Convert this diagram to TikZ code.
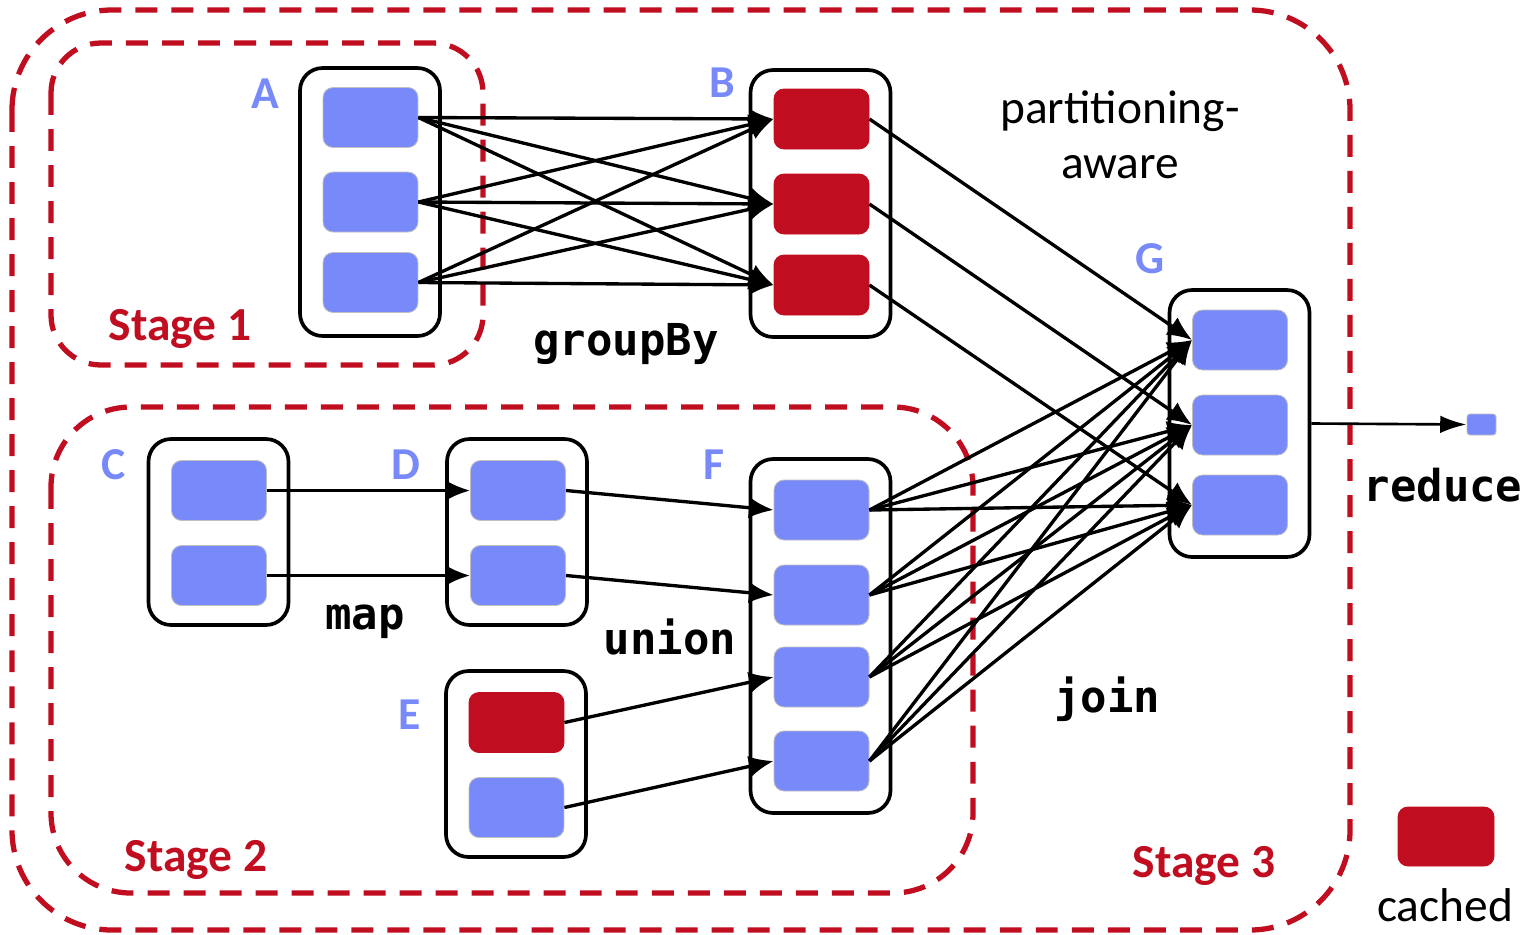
\documentclass[tikz,border=0pt]{standalone}
\usepackage{fontspec}
\setmainfont{Carlito}
\setmonofont{DejaVu Sans Mono}
\usetikzlibrary{arrows.meta}
\definecolor{pblue}{RGB}{120,138,250}
\definecolor{cred}{RGB}{192,14,32}
\begin{document}
\begin{tikzpicture}[x=0.02cm,y=-0.02cm,
  stage/.style={draw=cred, line width=3pt, dash pattern=on 12.5pt off 8pt},
  grp/.style={draw=black, line width=2.1pt, rounded corners=0.45cm, minimum width=2.8cm, inner sep=0},
  blk/.style={rectangle, rounded corners=0.2cm, fill=pblue, draw=black!25, line width=0.5pt, minimum width=1.9cm, minimum height=1.2cm, inner sep=0},
  rblk/.style={blk, fill=cred, draw=cred},
  arr/.style={line width=1.9pt, -{Latex[length=14pt,width=12pt]}},
  lbl/.style={text=pblue, font=\fontsize{26}{30}\selectfont\bfseries, anchor=base, inner sep=0},
  stg/.style={text=cred, font=\fontsize{27}{30}\selectfont\bfseries, anchor=base, inner sep=0},
  code/.style={font=\fontsize{25}{28}\selectfont\ttfamily\bfseries, anchor=base, inner sep=0},
  txt/.style={font=\fontsize{27}{30}\selectfont, anchor=base, inner sep=0}]
\useasboundingbox (0,0) rectangle (1521,934);
% stages
\draw[stage, rounded corners=2cm] (12,10) rectangle (1350,930);
\draw[stage, rounded corners=1cm] (51,43) rectangle (483,365);
\draw[stage, rounded corners=1.6cm] (51,407) rectangle (973,893);
% group boxes
\node[grp, minimum height=5.36cm] (Abox) at (370,202) {};
\node[grp, minimum height=5.34cm] (Bbox) at (820.5,203.5) {};
\node[grp, minimum height=5.34cm] (Gbox) at (1239.5,423.5) {};
\node[grp, minimum height=3.72cm] (Cbox) at (218.5,532) {};
\node[grp, minimum height=3.72cm] (Dbox) at (517,532) {};
\node[grp, minimum height=3.72cm] (Ebox) at (516,764) {};
\node[grp, minimum height=7.08cm] (Fbox) at (820.5,636) {};
% blocks
\node[blk] (A1) at (370.5,117.5) {};
\node[blk] (A2) at (370.5,202) {};
\node[blk] (A3) at (370.5,282.5) {};
\node[rblk] (B1) at (821.5,119) {};
\node[rblk] (B2) at (821.5,204) {};
\node[rblk] (B3) at (821.5,285) {};
\node[blk] (G1) at (1240,340) {};
\node[blk] (G2) at (1240,425) {};
\node[blk] (G3) at (1240,505) {};
\node[blk] (C1) at (219,490.5) {};
\node[blk] (C2) at (219,575.5) {};
\node[blk] (D1) at (518,490.5) {};
\node[blk] (D2) at (518,575.5) {};
\node[rblk] (E1) at (516.5,722.5) {};
\node[blk] (E2) at (516.5,807.5) {};
\node[blk] (F1) at (821.5,510) {};
\node[blk] (F2) at (821.5,595) {};
\node[blk] (F3) at (821.5,677) {};
\node[blk] (F4) at (821.5,761) {};
\node[blk, minimum width=0.58cm, minimum height=0.42cm, rounded corners=0.06cm] (R) at (1481.5,424.5) {};
\node[rblk, minimum width=1.92cm, minimum height=1.18cm] (L) at (1446,836.5) {};
% arrows
\foreach \i in {1,2,3} \foreach \j in {1,2,3} \draw[arr] (A\i.east) -- (B\j.west);
\foreach \i in {1,2,3} \draw[arr] (B\i.east) -- (G\i.west);
\foreach \i in {1,2,3,4} \foreach \j in {1,2,3} \draw[arr] (F\i.east) -- (G\j.west);
\draw[arr] (C1.east) -- (D1.west);
\draw[arr] (C2.east) -- (D2.west);
\draw[arr] (D1.east) -- (F1.west);
\draw[arr] (D2.east) -- (F2.west);
\draw[arr] (E1.east) -- (F3.west);
\draw[arr] (E2.east) -- (F4.west);
\draw[line width=1.5pt, -{Latex[length=15pt,width=10pt]}] (Gbox.east) -- (R.west);
% labels
\node[lbl] (lA) at (265,108) {A};
\node[lbl] (lB) at (722,97) {B};
\node[lbl] (lG) at (1150,273) {G};
\node[lbl] (lC) at (114,479) {C};
\node[lbl] (lD) at (406,479) {D};
\node[lbl] (lE) at (410,729) {E};
\node[lbl] (lF) at (714,479) {F};
\node[stg] (s1) at (180,340) {Stage 1};
\node[stg] (s2) at (196,871) {Stage 2};
\node[stg] (s3) at (1204,877) {Stage 3};
\node[code] (tg) at (626,355) {groupBy};
\node[code] (tm) at (365,629) {map};
\node[code] (tu) at (670,654) {union};
\node[code] (tj) at (1107,712) {join};
\node[code] (tr) at (1443,501) {reduce};
\node[txt] (tp1) at (1120,123) {partitioning-};
\node[txt] (tp2) at (1120,178) {aware};
\node[txt] (tc) at (1445,921) {cached};
\end{tikzpicture}
\end{document}
